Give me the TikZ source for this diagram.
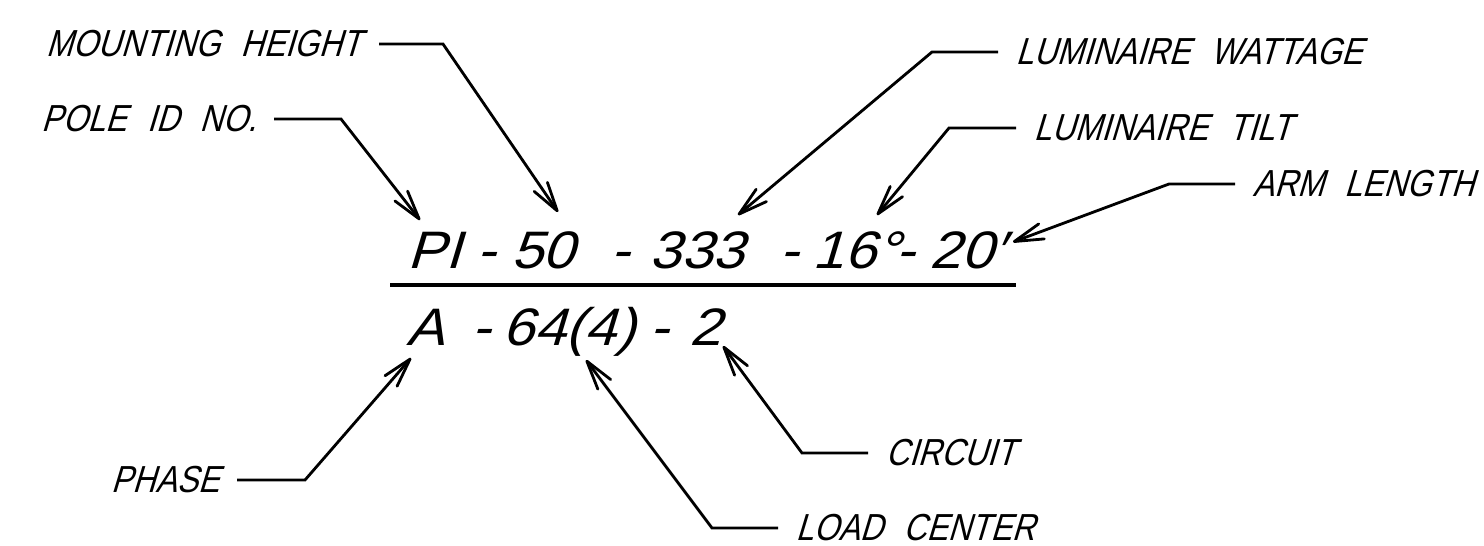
\documentclass[tikz,border=0pt]{standalone}
\usepackage{fontspec}
\usepackage{tikz}
\usetikzlibrary{arrows.meta,calc}
\newfontfamily\labelfont[FakeStretch=0.85,FakeSlant=0.3,WordSpace=2.3]{Liberation Sans}
\newfontfamily\codefont[FakeStretch=1.08,FakeSlant=0.3]{Liberation Sans}

\begin{document}
\begin{tikzpicture}[x=0.01cm,y=-0.01cm,
  tag/.style={font=\labelfont\fontsize{10.7}{12}\selectfont,inner xsep=0.17cm,inner ysep=0pt},
  field/.style={font=\codefont\fontsize{15}{18}\selectfont,inner sep=0pt,anchor=base},
  leader/.style={line width=0.8pt,-{Straight Barb[length=2.9mm,width=1.6mm,round]}},
  bar/.style={line width=1.1pt}]
\useasboundingbox (0,0) rectangle (1484,545);
% upper line of the pole code
\node[field] (pi) at (434,268) {PI};
\node[field] (d1) at (486,268) {-};
\node[field] (f50) at (543,268) {50};
\node[field] (d2) at (620,268) {-};
\node[field] (f333) at (697,268) {333};
\node[field] (d3) at (789,268) {-};
\node[field] (f16) at (856,268) {16°};
\node[field] (d4) at (905,268) {-};
\node[field] (f20) at (967,268) {20′};
\coordinate (barl) at (390,285);
\coordinate (barr) at (1016,285);
\draw[bar] (barl) -- (barr);
% lower line of the pole code
\node[field] (fa) at (425,345) {A};
\node[field] (d5) at (481,345) {-};
\node[field] (f64) at (569,345) {64(4)};
\node[field] (d6) at (659,345) {-};
\node[field] (f2) at (705,345) {2};
% labels
\node[tag,anchor=east] (mh) at (379,44) {MOUNTING HEIGHT};
\node[tag,anchor=east] (pid) at (274,119) {POLE ID NO.};
\node[tag,anchor=west] (lw) at (998,52) {LUMINAIRE WATTAGE};
\node[tag,anchor=west] (lt) at (1016,128) {LUMINAIRE TILT};
\node[tag,anchor=west] (al) at (1235,184) {ARM LENGTH};
\node[tag,anchor=east] (ph) at (237,480) {PHASE};
\node[tag,anchor=west] (lc) at (778,528) {LOAD CENTER};
\node[tag,anchor=west] (ci) at (868,453) {CIRCUIT};
% leaders
\draw[leader] (pid.east) -- ++(67,0) -- ($(pi.base)+(-14,-48)$);
\draw[leader] (mh.east) -- ++(64,0) -- ($(f50.base)+(15,-56)$);
\draw[leader] (lw.west) -- ++(-66,0) -- ($(f333.base)+(41,-53)$);
\draw[leader] (lt.west) -- ++(-67,0) -- ($(f16.base)+(21,-53)$);
\draw[leader] (al.west) -- ++(-66,0) -- ($(f20.base)+(46,-26)$);
\draw[leader] (ph.east) -- ++(68,0) -- ($(fa.base)+(-14,13)$);
\draw[leader] (lc.west) -- ++(-66,0) -- ($(f64.base)+(17,15)$);
\draw[leader] (ci.west) -- ++(-66,0) -- ($(f2.base)+(18,1)$);
\end{tikzpicture}
\end{document}
